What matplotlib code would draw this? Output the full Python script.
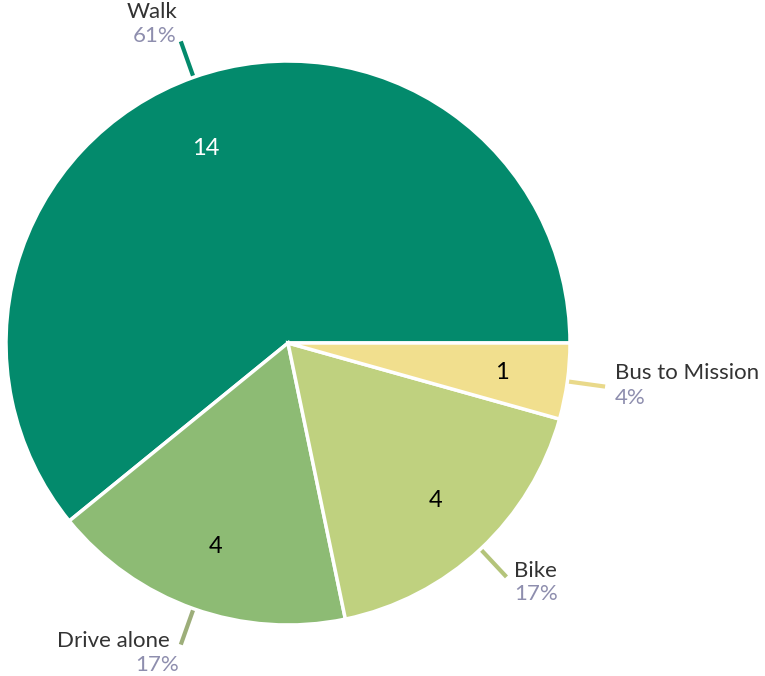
import numpy as np
import matplotlib
matplotlib.use("Agg")
import matplotlib.pyplot as plt

categories = ["Walk", "Drive alone", "Bike", "Bus to Mission"]
counts = [14, 4, 4, 1]
colors = ["#038A6C", "#8DBB74", "#BFD17F", "#F1DF8E"]
leader_colors = ["#038A6C", "#9DAE7A", "#B4C47A", "#E9D98A"]
value_colors = ["white", "black", "black", "black"]

W, H = 765, 676
fig = plt.figure(figsize=(W / 100, H / 100), dpi=100)
ax = fig.add_axes([0, 0, 1, 1])

plt.rcParams["font.family"] = ["Lato", "DejaVu Sans"]

cx, cy, R = 288, H - 343, 282
total = sum(counts)

wedges, _, autotexts = ax.pie(
    counts, colors=colors, startangle=0, counterclock=True,
    center=(cx, cy), radius=R, frame=True,
    autopct=lambda p: f"{round(p * total / 100)}", pctdistance=0.765,
    wedgeprops=dict(edgecolor="white", linewidth=2.5),
    textprops=dict(fontsize=17),
)
for t, c in zip(autotexts, value_colors):
    t.set_color(c)
# small nudge of the large-slice value label
px, py = autotexts[0].get_position()
autotexts[0].set_position((px - 10, py - 9))

ax.set_xlim(0, W)
ax.set_ylim(0, H)
ax.set_aspect("equal")
ax.axis("off")

# label offsets (pixels, y down) relative to leader end: (name dx, name dy, pct dx, pct dy, ha)
offsets = {
    "Walk": (-3, -29, -4, -5, "right"),
    "Drive alone": (-11, -4, -2, 20, "right"),
    "Bike": (8, -6, 8, 17, "left"),
    "Bus to Mission": (10, -14, 10, 11, "left"),
}
for w, name, col, n in zip(wedges, categories, leader_colors, counts):
    mid = np.deg2rad((w.theta1 + w.theta2) / 2)
    x0, y0 = cx + R * np.cos(mid), cy + R * np.sin(mid)
    x1, y1 = cx + 1.135 * R * np.cos(mid), cy + 1.135 * R * np.sin(mid)
    ax.plot([x0, x1], [y0, y1], color=col, lw=3, solid_capstyle="butt", zorder=0.5)
    ndx, ndy, pdx, pdy, ha = offsets[name]
    ax.text(x1 + ndx, y1 - ndy, name, ha=ha, va="center", fontsize=16, color="#333333")
    ax.text(x1 + pdx, y1 - pdy, f"{round(100 * n / total)}%", ha=ha, va="center",
            fontsize=16, color="#8E8EAE")

fig.savefig("out.png", dpi=100)
